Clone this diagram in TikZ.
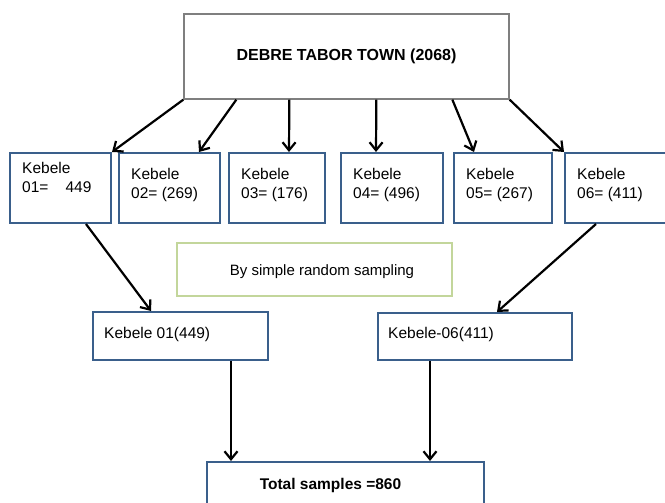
\documentclass[tikz,border=0pt]{standalone}
\usepackage{fontspec}
\setmainfont{Liberation Sans}
\usetikzlibrary{arrows.meta}
\definecolor{boxblue}{HTML}{3A5F8B}
\definecolor{boxgray}{HTML}{7F7F7F}
\definecolor{boxgreen}{HTML}{C3D69B}
\tikzset{
  kbox/.style={draw=boxblue, line width=2pt, fill=white, inner sep=0pt},
  topbox/.style={draw=boxgray, line width=1.3pt, fill=white, inner sep=0pt, font=\fontsize{16}{18}\selectfont\bfseries},
  srsbox/.style={draw=boxgreen, line width=1.3pt, fill=white, inner sep=0pt},
  txt/.style={inner sep=0pt, anchor=base west, align=left, font=\fontsize{15.5}{18.5}\selectfont},
  arr/.style={line width=2.2pt, -{Straight Barb[length=8pt,width=13pt,line width=2.2pt]}}
}
\begin{document}
\begin{tikzpicture}[x=1pt,y=-1pt]
\useasboundingbox (0,0) rectangle (665,503);
% top
\node[topbox, minimum width=325pt, minimum height=85pt] (top) at (346.5,56.5) {DEBRE TABOR TOWN (2068)};
% kebele boxes
\node[kbox, minimum width=101pt, minimum height=70pt] (k1) at (60.5,188) {};
\node[kbox, minimum width=101pt, minimum height=70pt] (k2) at (169.5,188) {};
\node[kbox, minimum width=96pt, minimum height=70pt] (k3) at (277,188) {};
\node[kbox, minimum width=102pt, minimum height=70pt] (k4) at (392,188) {};
\node[kbox, minimum width=98pt, minimum height=70pt] (k5) at (503,188) {};
\node[kbox, minimum width=105pt, minimum height=70pt] (k6) at (617.5,188) {};
\node[txt] (t1) at (22,192.5) {Kebele\\01=\hspace{1.1em}449};
\node[txt] (t2) at (131,198) {Kebele\\02= (269)};
\node[txt] (t3) at (241,198) {Kebele\\03= (176)};
\node[txt] (t4) at (353,198) {Kebele\\04= (496)};
\node[txt] (t5) at (466,198) {Kebele\\05= (267)};
\node[txt] (t6) at (577,198) {Kebele\\06= (411)};
% sampling
\node[srsbox, minimum width=275pt, minimum height=53pt] (srs) at (314.5,269.5) {};
\node[inner sep=0pt, anchor=base, font=\fontsize{15}{18}\selectfont] (srst) at (322,275) {By simple random sampling};
% selected kebeles
\node[kbox, minimum width=175pt, minimum height=48pt] (s1) at (180.5,336) {};
\node[kbox, minimum width=194pt, minimum height=47pt] (s6) at (475,336.5) {};
\node[txt] (st1) at (104,338) {Kebele 01(449)};
\node[txt] (st6) at (388,338) {Kebele-06(411)};
% total
\node[kbox, minimum width=277pt, minimum height=48pt] (tot) at (345.5,486) {};
\node[inner sep=0pt, anchor=base, font=\fontsize{15.5}{18}\selectfont\bfseries] (tott) at (330.5,489) {Total samples =860};
% arrows
\draw[arr] (top.south west) -- (k1.north east);
\draw[arr] ([xshift=53pt]top.south west) -- ([xshift=81pt]k2.north west);
\draw[arr] ([xshift=106pt]top.south west) -- ([xshift=61pt]k3.north west);
\draw[arr] ([xshift=193pt]top.south west) -- ([xshift=36pt]k4.north west);
\draw[arr] ([xshift=269pt]top.south west) -- ([xshift=21pt]k5.north west);
\draw[arr] (top.south east) -- (k6.north west);
\draw[arr] ([xshift=77pt]k1.south west) -- ([xshift=59pt]s1.north west);
\draw[arr] ([xshift=32pt]k6.south west) -- ([xshift=120pt]s6.north west);
\draw[arr] ([xshift=139pt]s1.south west) -- ([xshift=25pt]tot.north west);
\draw[arr] ([xshift=53pt]s6.south west) -- ([xshift=224pt]tot.north west);
\end{tikzpicture}
\end{document}
